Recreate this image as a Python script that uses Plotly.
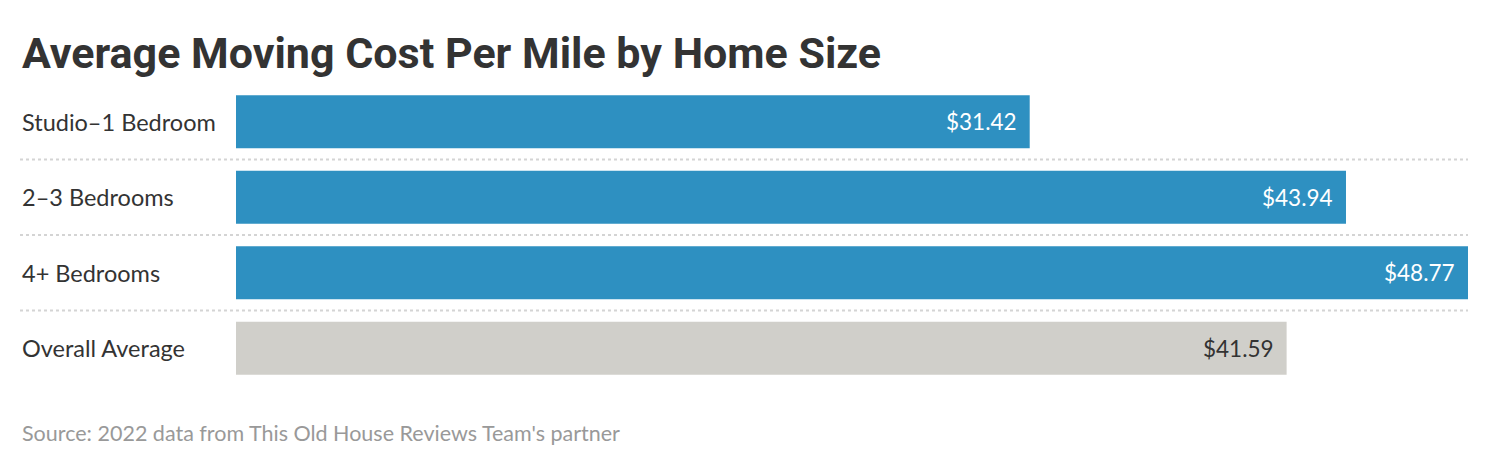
import plotly.graph_objects as go

# data
categories = ["Studio–1 Bedroom", "2–3 Bedrooms", "4+ Bedrooms", "Overall Average"]
cost_per_mile = [31.42, 43.94, 48.77, 41.59]
bar_colors = ["#2e90c1", "#2e90c1", "#2e90c1", "#d0cfca"]
label_colors = ["#ffffff", "#ffffff", "#ffffff", "#333333"]

title_text = "Average Moving Cost Per Mile by Home Size"
source_text = "Source: 2022 data from This Old House Reviews Team's partner"

fig = go.Figure()

fig.add_trace(go.Bar(
    x=cost_per_mile,
    y=categories,
    orientation="h",
    marker=dict(color=bar_colors, line=dict(width=0)),
    width=0.7,
    hoverinfo="skip",
))

# value labels at the right end of each bar
for cat, val, col in zip(categories, cost_per_mile, label_colors):
    fig.add_annotation(
        x=val, y=cat, xref="x", yref="y",
        text=f"${val:.2f}", showarrow=False,
        xanchor="right", xshift=-11,
        font=dict(family="Lato, Noto Sans, sans-serif", size=22.5, color=col),
    )
    # category labels, left aligned
    fig.add_annotation(
        x=0, y=cat, xref="paper", yref="y",
        text=cat, showarrow=False, xanchor="left",
        font=dict(family="Lato, Noto Sans, sans-serif", size=23.5, color="#333333"),
    )

# dotted separators between rows
for i in range(len(categories) - 1):
    fig.add_shape(
        type="line", xref="paper", yref="y",
        x0=0, x1=1, y0=i + 0.5, y1=i + 0.5,
        line=dict(color="#d4d4d4", width=2, dash="dot"),
    )

fig.add_annotation(
    x=0, y=1.103, xref="paper", yref="paper", yanchor="middle",
    text=f"<b>{title_text}</b>", showarrow=False, xanchor="left",
    font=dict(family="Roboto, sans-serif", size=43, color="#333333"),
)
fig.add_annotation(
    x=0, y=-0.156, xref="paper", yref="paper", yanchor="middle",
    text=source_text, showarrow=False, xanchor="left",
    font=dict(family="Lato, Noto Sans, sans-serif", size=21.5, color="#999999"),
)

fig.update_layout(
    width=1490, height=466,
    margin=dict(l=12, r=30, t=76, b=88),
    paper_bgcolor="white", plot_bgcolor="white",
    showlegend=False,
    bargap=0.3,
    xaxis=dict(domain=[216 / 1448, 1], range=[0, 48.77], visible=False, fixedrange=True),
    yaxis=dict(autorange="reversed", visible=False, range=[-0.5, 3.5], fixedrange=True),
)

fig.write_html("out.html")
